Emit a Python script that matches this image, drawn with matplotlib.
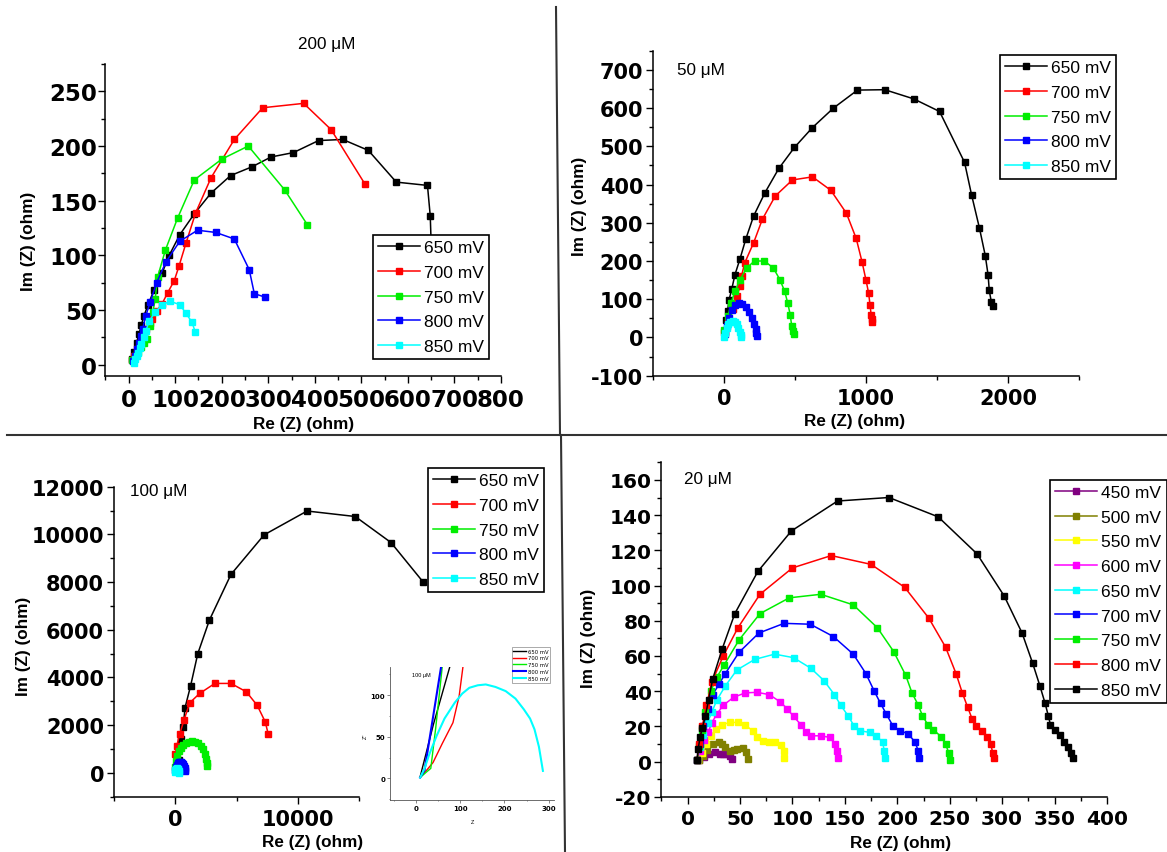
import matplotlib
matplotlib.use('Agg')
import matplotlib.pyplot as plt
from matplotlib.ticker import MultipleLocator
from matplotlib.lines import Line2D

plt.rcParams['axes.unicode_minus'] = False

W, H = 1167, 853

# ---- 200 uM ----
labels_200 = ['650 mV', '700 mV', '750 mV', '800 mV', '850 mV']
re_200 = [
    [8, 12, 17, 22, 27, 33, 42, 54, 72, 87, 110, 141, 177, 219, 265, 306, 354, 408, 460, 515, 575, 642, 648, 650, 651],
    [7, 12, 18, 24, 30, 38, 45, 50, 60, 72, 84, 98, 108, 123, 144, 177, 227, 288, 376, 435, 508],
    [8, 14, 20, 27, 33, 39, 45, 52, 57, 62, 79, 105, 141, 200, 257, 335, 384],
    [10, 14, 18, 22, 26, 30, 37, 46, 60, 80, 110, 148, 187, 227, 259, 270, 292],
    [12, 14, 17, 20, 24, 27, 32, 37, 44, 57, 72, 89, 110, 123, 136, 143],
]
im_200 = [
    [5, 12, 20, 28, 36, 45, 55, 68, 84, 100, 119, 138, 157, 173, 181, 190, 194, 205, 206, 196, 167, 164, 136, 110, 85],
    [4, 8, 14, 20, 26, 33, 38, 42, 49, 56, 66, 77, 90, 111, 139, 171, 206, 235, 239, 215, 165],
    [4, 8, 12, 16, 20, 24, 35, 48, 60, 80, 105, 134, 169, 188, 200, 160, 128],
    [3, 8, 14, 20, 26, 33, 45, 57, 75, 94, 113, 123, 121, 115, 87, 65, 62],
    [2, 5, 8, 11, 15, 19, 25, 31, 40, 48, 55, 58, 55, 47, 39, 30],
]

# ---- 50 uM ----
labels_50 = ['650 mV', '700 mV', '750 mV', '800 mV', '850 mV']
re_50 = [
    [5, 14, 25, 36, 55, 77, 113, 154, 209, 289, 386, 496, 623, 771, 940, 1132, 1336, 1518, 1694, 1744, 1799, 1840, 1860, 1868, 1882, 1895],
    [0, 30, 60, 91, 113, 124, 146, 209, 270, 361, 482, 623, 752, 862, 931, 972, 1000, 1019, 1028, 1036, 1041, 1045],
    [3, 28, 50, 77, 113, 160, 215, 284, 347, 394, 427, 449, 466, 477, 485, 490],
    [10, 20, 35, 55, 80, 105, 130, 155, 178, 198, 212, 222, 228, 232],
    [0, 8, 18, 30, 45, 60, 75, 90, 102, 112, 118, 121],
]
im_50 = [
    [15, 45, 70, 99, 127, 164, 206, 258, 318, 379, 442, 497, 549, 600, 647, 648, 624, 591, 458, 372, 286, 214, 163, 123, 94, 81],
    [15, 40, 75, 108, 134, 162, 195, 248, 309, 370, 412, 420, 385, 325, 259, 198, 150, 115, 86, 60, 48, 40],
    [20, 55, 90, 121, 151, 182, 200, 200, 182, 151, 121, 90, 60, 30, 16, 10],
    [10, 30, 52, 72, 85, 90, 88, 80, 67, 50, 35, 22, 12, 4],
    [2, 12, 24, 34, 40, 42, 40, 34, 25, 15, 7, 2],
]

# ---- 100 uM ----
labels_100 = ['650 mV', '700 mV', '750 mV', '800 mV', '850 mV']
re_100 = [
    [150, 350, 500, 650, 800, 1250, 1840, 2790, 4540, 7240, 10740, 14660, 17570, 20180],
    [0, 120, 360, 710, 1190, 1990, 3230, 4540, 5790, 6680, 7330, 7570],
    [0, 60, 150, 280, 450, 650, 880, 1120, 1380, 1640, 1880, 2100, 2290, 2440, 2540, 2590, 2610],
    [0, 50, 120, 200, 290, 380, 470, 560, 640, 710, 760, 790, 805],
    [-40, 0, 40, 90, 140, 190, 240, 280, 300],
]
im_100 = [
    [70, 560, 1430, 1920, 2730, 3640, 5000, 6410, 8320, 9980, 10980, 10750, 9660, 8010],
    [770, 1120, 1610, 2210, 2940, 3330, 3750, 3750, 3400, 2830, 2140, 1640],
    [250, 500, 720, 900, 1040, 1150, 1240, 1300, 1330, 1310, 1250, 1140, 990, 800, 600, 420, 280],
    [100, 250, 350, 410, 440, 450, 440, 410, 360, 290, 210, 130, 60],
    [20, 100, 150, 180, 185, 170, 130, 70, 10],
]

# inset of the 100 uM panel (low-impedance zoom)
re_inset = [
    [10, 40, 80],
    [10, 25, 39, 60, 84, 98, 108],
    [10, 25, 34, 45, 61],
    [10, 20, 59],
    [10, 20, 30, 47, 65, 88, 105, 121, 140, 158, 180, 203, 225, 244, 258, 268, 278, 287],
]
im_inset = [
    [2, 65, 140],
    [2, 10, 19, 42, 67, 99, 140],
    [1, 8, 12, 60, 140],
    [1, 10, 140],
    [1, 12, 28, 51, 72, 91, 102, 109, 112, 113, 110, 105, 96, 83, 72, 59, 38, 9],
]

# ---- 20 uM ----
labels_20 = ['450 mV', '500 mV', '550 mV', '600 mV', '650 mV', '700 mV', '750 mV', '800 mV', '850 mV']
re_20 = [
    [11, 15.5, 20, 26, 31, 34, 37, 40, 42],
    [11, 14.8, 18.5, 24, 29.5, 33, 36, 40.6, 44, 47.3, 52.4, 56, 58],
    [10, 14, 17.7, 22, 27, 33, 40.6, 48, 55, 62, 66.5, 72, 77.6, 83, 88.6, 91.6, 92.3],
    [9, 12, 16, 19.6, 23, 28, 34, 44, 55, 66, 78, 88, 95, 101, 108, 113, 118, 127, 135.5, 140.4, 142.2, 143.3],
    [9, 12, 15, 19, 23, 28, 36, 47, 64, 83, 101, 117.5, 130, 140, 146, 153, 159, 164, 174, 180, 186, 187.6, 188.4],
    [9, 12, 15, 19, 24, 30, 36, 49, 68, 92, 117, 139, 158, 170, 178, 184, 189.5, 196, 203, 210.5, 217, 220, 221],
    [9, 11, 14, 17, 22, 28, 35, 49, 69, 97, 127, 158, 181, 196.5, 208, 214, 220, 224, 229, 234.5, 242, 246, 249, 250.5],
    [9, 11, 14, 18, 23, 34, 48, 69, 100, 137, 175, 207, 230, 246, 256, 262, 267, 271.5, 275, 281, 285.5, 289, 291, 292],
    [9, 10, 12, 14, 17, 20, 24, 33, 45, 67, 99, 143, 192, 239, 276, 302, 319, 329, 336, 341, 344, 346, 350, 355, 359, 363, 366, 368],
]
im_20 = [
    [1, 2.3, 4.2, 5.5, 4.2, 4, 4, 3, 1.3],
    [1, 3.2, 6.6, 9.9, 10.8, 10, 8.5, 6, 6.5, 7, 7.6, 5.5, 1.3],
    [1, 5, 10, 14.6, 18.4, 21, 22.2, 22.2, 20.7, 17.5, 14.2, 11.8, 10.8, 10.8, 9.3, 6, 2],
    [1, 6, 12, 16.5, 22, 27, 32, 36.5, 39, 39.3, 38, 34, 30, 25.6, 21, 16.5, 14.6, 14.6, 13.7, 10, 6, 2],
    [1, 8, 15, 22, 28, 35, 43, 52, 58, 61, 59, 53, 46, 38, 32, 26, 20, 17.5, 16.5, 14.6, 11, 6, 2],
    [1, 10, 20, 30, 38, 44, 50, 62, 73, 78.5, 78, 71, 61, 50, 40, 33, 27, 20, 17.5, 15.6, 11, 6, 2],
    [1, 9, 18, 28, 40, 48, 55, 69, 84, 93, 95, 89, 76, 62.5, 49, 39, 32, 26, 21, 18, 14, 10, 5, 1],
    [1, 10, 20, 32, 45, 60, 76, 95, 110, 117, 112, 99, 81.5, 65, 50, 39, 31, 24, 20, 17.5, 14, 10, 5, 2],
    [1, 7, 14, 19, 26, 35, 47, 64, 84, 108, 131, 148, 150, 139, 118, 94, 73, 56, 43, 33, 26, 21, 18, 15, 11, 8, 5, 2],
]

c5 = ['black', 'red', '#00ee00', 'blue', 'cyan']
c9 = ['#800080', '#808000', '#ffff00', '#ff00ff', 'cyan', 'blue', '#00ee00', 'red', 'black']

fig = plt.figure(figsize=(W / 100, H / 100), dpi=100)


def add_ax(l, t, r, b):
    return fig.add_axes([l / W, 1 - b / H, (r - l) / W, (b - t) / H])


def ftext(x, y, s, **kw):
    fig.text(x / W, 1 - y / H, s, ha='center', va='center', **kw)


def style(ax, xl, yl, xmaj, xmin, ymaj, ymin, size, ypad=2):
    ax.set_xlim(*xl)
    ax.set_ylim(*yl)
    ax.spines['top'].set_visible(False)
    ax.spines['right'].set_visible(False)
    ax.spines['left'].set_linewidth(1.1)
    ax.spines['bottom'].set_linewidth(1.1)
    ax.xaxis.set_major_locator(MultipleLocator(xmaj))
    ax.xaxis.set_minor_locator(MultipleLocator(xmin))
    ax.yaxis.set_major_locator(MultipleLocator(ymaj))
    ax.yaxis.set_minor_locator(MultipleLocator(ymin))
    ax.tick_params(which='major', direction='out', length=5, width=1, labelsize=size)
    ax.tick_params(which='minor', direction='out', length=3, width=1)
    ax.tick_params(axis='y', pad=ypad)
    ax.tick_params(axis='x', pad=4)
    for lab in ax.get_xticklabels() + ax.get_yticklabels():
        lab.set_fontweight('bold')
        lab.set_family('DejaVu Sans')


def draw(ax, xs, ys, colors, labels, noclip=()):
    for i, (x, y, c, lab) in enumerate(zip(xs, ys, colors, labels)):
        ax.plot(x, y, '-s', color=c, lw=1.1, ms=5, mec=c, label=lab,
                clip_on=(i not in noclip))


def legend(ax, left, top):
    leg = ax.legend(loc='upper left', bbox_to_anchor=(left / W, 1 - top / H),
                    bbox_transform=fig.transFigure, borderaxespad=0,
                    fancybox=False, framealpha=1, edgecolor='black',
                    prop={'family': 'Liberation Sans', 'size': 12.5},
                    handlelength=2.4, handletextpad=0.25, labelspacing=0.55,
                    borderpad=0.3, numpoints=1)
    leg.get_frame().set_linewidth(1.2)
    return leg


lab_font = {'family': 'Liberation Sans', 'weight': 'bold', 'size': 12.3}
ttl_font = {'family': 'Liberation Sans', 'size': 12.3}

# panel 200 uM
ax1 = add_ax(105.4, 65, 501, 376.7)
draw(ax1, re_200, im_200, c5, labels_200)
style(ax1, (-50, 800), (-10, 275), 100, 50, 50, 25, 16.5, ypad=1)
legend(ax1, 373, 236)
ftext(327, 45, '200 \u03bcM', **ttl_font)
ftext(303.6, 425, 'Re (Z) (ohm)', **lab_font)
ftext(28.6, 241.7, 'Im (Z) (ohm)', rotation=90, **lab_font)

# panel 50 uM
ax2 = add_ax(653, 51.7, 1079, 376.7)
draw(ax2, re_50, im_50, c5, labels_50)
style(ax2, (-500, 2500), (-100, 750), 1000, 500, 100, 50, 15)
legend(ax2, 1000, 56)
fig.text(677.3 / W, 1 - 71 / H, '50 \u03bcM', ha='left', va='center', **ttl_font)
ftext(855, 421.7, 'Re (Z) (ohm)', **lab_font)
ftext(579.4, 206.7, 'Im (Z) (ohm)', rotation=90, **lab_font)

# panel 100 uM
ax3 = add_ax(113.8, 487.7, 359.4, 797.7)
draw(ax3, re_100, im_100, c5, labels_100, noclip=(0,))
style(ax3, (-5000, 15000), (-1000, 12000), 10000, 5000, 2000, 1000, 15)
legend(ax3, 428, 469)
fig.text(130 / W, 1 - 492 / H, '100 \u03bcM', ha='left', va='center', **ttl_font)
ftext(313, 843, 'Re (Z) (ohm)', **lab_font)
ftext(23.6, 646.7, 'Im (Z) (ohm)', rotation=90, **lab_font)

# inset
axi = add_ax(390, 668, 554, 801)
for x, y, c, lab in zip(re_inset, im_inset, c5, labels_100):
    axi.plot(x, y, '-', color=c, lw=1.0 if c in ('black', 'red', '#00ee00') else 1.5, label=lab)
axi.set_xlim(-58, 312)
axi.set_ylim(-26, 134)
for s in ['top', 'right']:
    axi.spines[s].set_visible(False)
for s in ['left', 'bottom']:
    axi.spines[s].set_linewidth(0.6)
    axi.spines[s].set_color('#555555')
axi.xaxis.set_major_locator(MultipleLocator(100))
axi.xaxis.set_minor_locator(MultipleLocator(50))
axi.yaxis.set_major_locator(MultipleLocator(50))
axi.yaxis.set_minor_locator(MultipleLocator(25))
axi.tick_params(which='major', length=2, width=0.5, labelsize=5, pad=1.5, color='#555555')
axi.tick_params(which='minor', length=1, width=0.5, color='#555555')
for lab in axi.get_xticklabels() + axi.get_yticklabels():
    lab.set_fontweight('bold')
li = axi.legend(loc='upper left', bbox_to_anchor=(511.7 / W, 1 - 648 / H),
                bbox_transform=fig.transFigure, borderaxespad=0, fancybox=False,
                framealpha=1, edgecolor='#888888', fontsize=3.8, handlelength=2.4,
                handletextpad=0.3, labelspacing=0.35, borderpad=0.3)
li.get_frame().set_linewidth(0.5)
ftext(421.7, 675.7, '100 \u03bcM', family='Liberation Sans', size=4)
ftext(472.6, 823, "Z'", family='Liberation Sans', size=4)
ftext(365, 736, "Z''", family='Liberation Sans', size=4, rotation=90)

# panel 20 uM
ax4 = add_ax(661.4, 463.3, 1107, 797.7)
draw(ax4, re_20, im_20, c9, labels_20)
style(ax4, (-25, 400), (-20, 170), 50, 25, 20, 10, 14.5)
legend(ax4, 1050, 480.7)
fig.text(684 / W, 1 - 479.3 / H, '20 \u03bcM', ha='left', va='center', **ttl_font)
ftext(900.7, 843.3, 'Re (Z) (ohm)', **lab_font)
ftext(589, 638, 'Im (Z) (ohm)', rotation=90, **lab_font)

# separator lines between the four panels
for (x0, y0), (x1, y1) in [((7, 436), (1167, 436)),
                           ((556, 8), (560, 436)),
                           ((561, 436), (565, 853))]:
    fig.add_artist(Line2D([x0 / W, x1 / W], [1 - y0 / H, 1 - y1 / H],
                          transform=fig.transFigure, color='#333333', lw=1.5))

fig.savefig('out.png', dpi=100)
